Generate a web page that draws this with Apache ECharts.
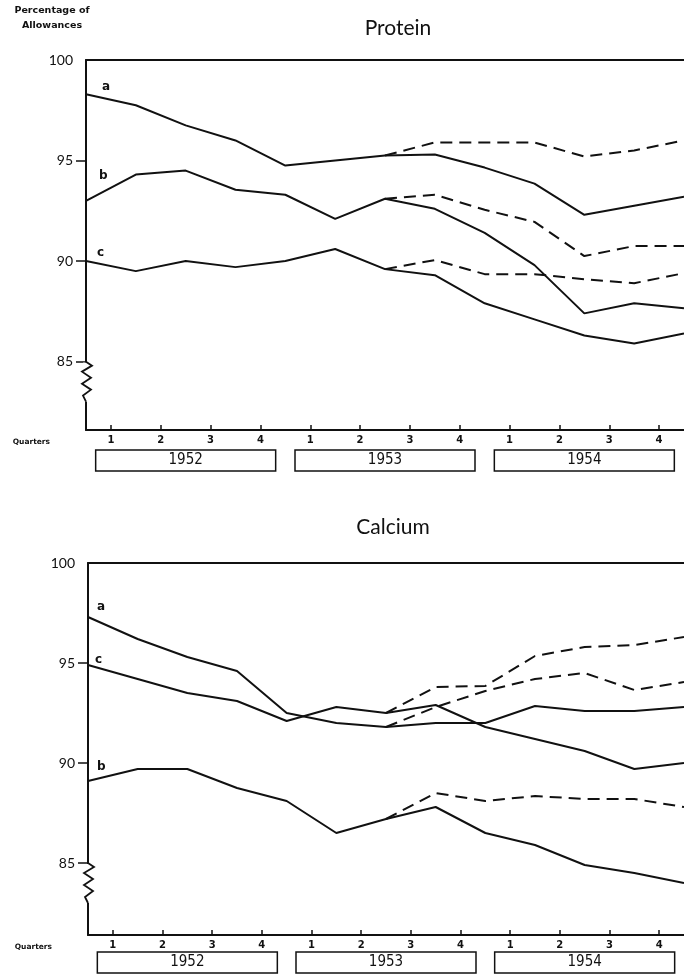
<!DOCTYPE html>
<html>
<head>
<meta charset="utf-8">
<title>Protein and Calcium</title>
<script src="https://cdn.jsdelivr.net/npm/echarts@6/dist/echarts.min.js"></script>
<style>
  html, body { margin: 0; padding: 0; background: #fff; }
  #main { width: 684px; height: 975px; }
</style>
</head>
<body>
<div id="main"></div>
<script>
// quarters 1952 Q1 .. 1954 Q4 (points 0..12, labels sit between points)
const quarterLabels = ['1', '2', '3', '4'];
const years = ['1952', '1953', '1954'];
const yLabels = [85, 90, 95, 100];
const yTicks = [85, 90, 95];

// Protein, percentage of allowances
const proteinA = [98.3, 97.75, 96.75, 96.0, 94.75, 95.0, 95.25, 95.3, 94.65, 93.85, 92.3, 92.75, 93.2];
const proteinB = [93.0, 94.3, 94.5, 93.55, 93.3, 92.1, 93.1, 92.6, 91.4, 89.8, 87.4, 87.9, 87.65];
const proteinC = [90.0, 89.5, 90.0, 89.7, 90.0, 90.6, 89.6, 89.3, 87.9, 87.1, 86.3, 85.9, 86.4];
// dashed lines, from point 6 onward
const proteinADash = [95.25, 95.9, 95.9, 95.9, 95.2, 95.5, 96.0];
const proteinBDash = [93.1, 93.3, 92.55, 91.95, 90.25, 90.75, 90.75];
const proteinCDash = [89.6, 90.05, 89.35, 89.35, 89.1, 88.9, 89.4];

// Calcium
const calciumA = [97.3, 96.2, 95.3, 94.6, 92.5, 92.0, 91.8, 92.0, 92.0, 92.85, 92.6, 92.6, 92.8];
const calciumB = [89.1, 89.7, 89.7, 88.75, 88.1, 86.5, 87.2, 87.8, 86.5, 85.9, 84.9, 84.5, 84.0];
const calciumC = [94.9, 94.2, 93.5, 93.1, 92.1, 92.8, 92.5, 92.9, 91.8, 91.2, 90.6, 89.7, 90.0];
const calciumADash = [91.8, 92.8, 93.6, 94.2, 94.5, 93.65, 94.05];
const calciumBDash = [87.2, 88.5, 88.1, 88.35, 88.2, 88.2, 87.8];
const calciumCDash = [92.5, 93.8, 93.85, 95.35, 95.8, 95.9, 96.3];

const dashStart = 6;
const black = '#111';
const boldFont = '"DejaVu Sans", sans-serif';
const chart = echarts.init(document.getElementById('main'));

const quarterPos = [];
for (let i = 0; i < 12; i++) quarterPos.push(i + 0.5);

function solid(name, values, g, offset) {
    return {
        type: 'line',
        xAxisIndex: g * 3,
        yAxisIndex: g,
        data: values.map((v, i) => [i, v]),
        symbol: 'circle',
        symbolSize: 0,
        showSymbol: true,
        lineStyle: { color: black, width: 2 },
        itemStyle: { color: black },
        label: {
            show: true,
            position: 'right',
            offset: offset,
            formatter: p => (p.dataIndex === 0 ? name : ''),
            fontSize: 12,
            fontWeight: 'bold',
            fontFamily: boldFont,
            color: black
        },
        silent: true
    };
}

function dashed(values, g) {
    return {
        type: 'line',
        xAxisIndex: g * 3,
        yAxisIndex: g,
        data: values.map((v, i) => [i + dashStart, v]),
        showSymbol: false,
        lineStyle: { color: black, width: 2, type: [12, 7] },
        silent: true
    };
}

function xAxes(g, yearMargin) {
    return [
        {
            gridIndex: g, type: 'value', min: 0, max: 12, position: 'bottom',
            splitLine: { show: false },
            axisLine: { lineStyle: { color: black, width: 2 } },
            axisTick: { customValues: quarterPos, inside: true, length: 5, lineStyle: { color: black, width: 1.5 } },
            axisLabel: {
                customValues: quarterPos,
                formatter: v => quarterLabels[Math.floor(v) % 4],
                margin: 5, fontSize: 10, fontWeight: 'bold', fontFamily: boldFont, color: black
            },
            name: 'Quarters', nameLocation: 'start', nameGap: 36,
            nameTextStyle: { fontSize: 7.5, fontWeight: 'bold', fontFamily: boldFont, color: black, verticalAlign: 'top', padding: [8, 0, 0, 0] }
        },
        {
            gridIndex: g, type: 'value', min: 0, max: 12, position: 'top',
            splitLine: { show: false },
            axisLine: { lineStyle: { color: black, width: 2 } },
            axisTick: { show: false },
            axisLabel: { show: false }
        },
        {
            gridIndex: g, type: 'category', data: years, position: 'bottom', offset: 0,
            axisLine: { show: false },
            axisTick: { show: false },
            axisLabel: {
                margin: yearMargin, width: 180, height: 21, lineHeight: 21, align: 'center',
                borderColor: black, borderWidth: 1.5,
                fontSize: 15, fontFamily: '"DejaVu Sans Condensed", "DejaVu Sans", sans-serif', color: black
            }
        }
    ];
}

function yAxis(g, min, withName) {
    const ax = {
        gridIndex: g, type: 'value', min: min, max: 100,
        splitLine: { show: false },
        axisLine: { show: true, lineStyle: { color: black, width: 2 } },
        axisTick: { show: true, customValues: yTicks, length: 10, lineStyle: { color: black, width: 1.5 } },
        axisLabel: { customValues: yLabels, margin: 13, fontSize: 14, color: black }
    };
    if (withName) {
        ax.name = 'Percentage of\nAllowances';
        ax.nameLocation = 'end';
        ax.nameGap = 27;
        ax.nameTextStyle = {
            fontSize: 9.5, fontWeight: 'bold', fontFamily: boldFont, lineHeight: 15,
            color: black, align: 'center', padding: [0, 68, 0, 0]
        };
    }
    return ax;
}

const option = {
    animation: false,
    backgroundColor: '#fff',
    textStyle: { fontFamily: 'Lato, "DejaVu Sans", sans-serif' },
    title: [
        { text: 'Protein', left: 393, top: 13, textAlign: 'center', textStyle: { fontSize: 21, fontWeight: 'normal', color: black } },
        { text: 'Calcium', left: 388, top: 512, textAlign: 'center', textStyle: { fontSize: 21, fontWeight: 'normal', color: black } }
    ],
    grid: [
        { left: 86, right: -2, top: 60, height: 370 },
        { left: 88, right: -2, top: 563, height: 372 }
    ],
    xAxis: [...xAxes(0, 20), ...xAxes(1, 17)],
    yAxis: [yAxis(0, 81.6, true), yAxis(1, 81.4, false)],
    series: [
        solid('a', proteinA, 0, [11, -7]),
        solid('b', proteinB, 0, [8, -25]),
        solid('c', proteinC, 0, [6, -8]),
        dashed(proteinADash, 0),
        dashed(proteinBDash, 0),
        dashed(proteinCDash, 0),
        solid('a', calciumA, 1, [4, -10]),
        solid('b', calciumB, 1, [4, -14]),
        solid('c', calciumC, 1, [2, -5]),
        dashed(calciumADash, 1),
        dashed(calciumBDash, 1),
        dashed(calciumCDash, 1)
    ]
};

chart.setOption(option);

// axis break zigzag below 85
const zig = [[0, 0], [6, 4], [-4, 10], [5, 16], [-4, 22], [5, 28], [-3, 34], [0, 40]];
const graphics = [];
[0, 6].forEach(si => {
    const p = chart.convertToPixel({ seriesIndex: si }, [0, 85]);
    graphics.push({
        type: 'rect', z: 100,
        shape: { x: p[0] - 3, y: p[1] + 1, width: 6, height: 39 },
        style: { fill: '#fff' }
    });
    graphics.push({
        type: 'polyline', z: 101,
        shape: { points: zig.map(d => [p[0] + d[0], p[1] + d[1]]) },
        style: { stroke: black, lineWidth: 1.8, fill: null }
    });
});
chart.setOption({ graphic: graphics });
</script>
</body>
</html>
